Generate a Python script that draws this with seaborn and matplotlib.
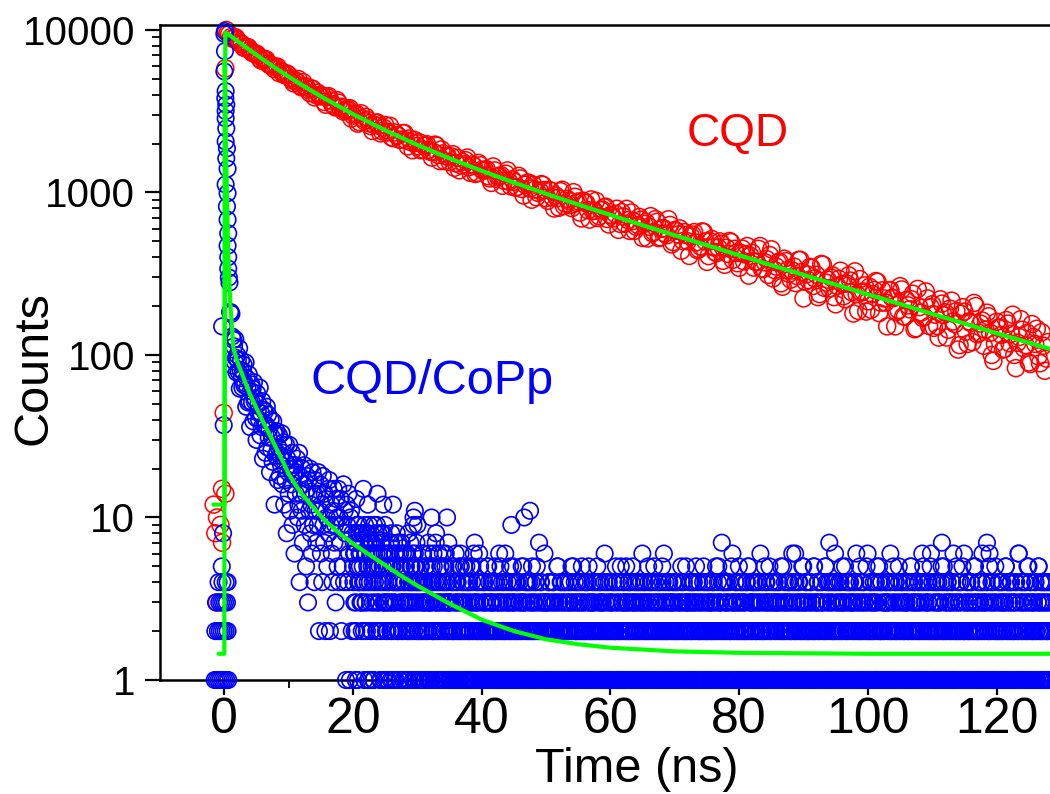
import numpy as np
import pandas as pd
import seaborn as sns
import matplotlib.pyplot as plt
from matplotlib.ticker import FixedLocator, FuncFormatter, NullFormatter, LogLocator

sns.set_style("ticks")
plt.rcParams['font.family'] = ['Liberation Sans', 'DejaVu Sans']
plt.rcParams.update({"text.color": "black", "axes.labelcolor": "black",
                     "xtick.color": "black", "ytick.color": "black"})

##
# DATA
##

# CQD - points before / at the pulse
red_pre_t = [-1.66, -1.4, -1.14, -1.14, -0.6, -0.36, -0.36, -0.1, 0.15, 0.15, 0.3]
red_pre_y = [12, 8, 10, 3, 9, 15, 7, 44, 14, 5800, 10000]

# CQD - decay, one value every 0.5 ns starting at 0.5 ns
red_start, red_step = 0.5, 0.5
red_counts = [
    9540, 9030, 8940, 8750, 8240, 7790, 7840, 7510, 7180, 7150, 6650, 6640, 6590, 6090, 5990, 5910, 5430, 5530, 5270, 5290,
    4900, 4900, 4990, 4430, 4490, 4290, 4370, 3850, 4110, 3900, 3610, 3860, 3680, 3410, 3700, 3320, 3150, 3230, 3300, 2970,
    3060, 2710, 2850, 2920, 2670, 2390, 2680, 2570, 2380, 2600, 2360, 2180, 2340, 2240, 2110, 2320, 1920, 2040, 2110, 1930,
    1820, 1940, 1980, 1780, 1770, 1940, 1560, 1740, 1670, 1540, 1720, 1510, 1370, 1540, 1580, 1430, 1490, 1300, 1520, 1380,
    1375, 1260, 1145, 1367, 1251, 1279, 1179, 1367, 1091, 1166, 1081, 1220, 958, 1145, 1059, 1117, 935, 1024, 1114, 923,
    1036, 933, 958, 806, 1039, 854, 888, 801, 941, 880, 692, 866, 777, 906, 771, 696, 778, 811, 687, 727,
    695, 794, 641, 712, 793, 580, 667, 615, 707, 525, 657, 616, 562, 685, 524, 598, 559, 684, 479, 588,
    551, 438, 570, 501, 536, 570, 442, 465, 571, 374, 501, 460, 423, 500, 380, 457, 503, 385, 425, 344,
    451, 415, 308, 425, 375, 450, 340, 372, 311, 447, 333, 371, 276, 391, 333, 291, 350, 306, 385, 223,
    314, 348, 266, 312, 237, 360, 279, 257, 309, 205, 294, 273, 220, 309, 243, 327, 187, 242, 268, 214,
    190, 251, 282, 210, 223, 150, 251, 224, 184, 265, 173, 218, 191, 238, 146, 197, 169, 246, 151, 205,
    177, 128, 207, 183, 143, 216, 155, 108, 179, 185, 117, 157, 209, 134, 156, 114, 182, 137, 92, 160,
    148, 108, 164, 118, 177, 83, 129, 143, 115, 90, 155, 117, 98, 138, 80, 120,
]

# CQD - the channels in between, every 0.5 ns starting at 0.75 ns
red_start_b = 0.75
red_counts_b = [
    9440, 8830, 9010, 8390, 8190, 7730, 7820, 7280, 7150, 6980, 6480, 6620, 6220, 6110, 5750, 5950, 5610, 5300, 5390, 5050,
    4700, 4830, 4540, 4770, 4480, 4100, 4340, 3970, 3960, 3950, 3470, 3910, 3500, 3340, 3570, 3370, 3190, 3260, 2850, 3030,
    2650, 3070, 2750, 2800, 2560, 2610, 2700, 2310, 2500, 2340, 2570, 2160, 2250, 2110, 2320, 2090, 2150, 1820, 2020, 2040,
    1840, 1950, 1830, 1640, 1970, 1700, 1840, 1560, 1660, 1670, 1420, 1630, 1470, 1490, 1640, 1320, 1460, 1320, 1470, 1360,
    1390, 1220, 1445, 1215, 1260, 1100, 1305, 1165, 1205, 1070, 1265, 1050, 1115, 1150, 903, 1044, 994, 1125, 1036, 889,
    1024, 797, 924, 1018, 827, 914, 838, 1004, 862, 752, 890, 860, 681, 770, 888, 714, 784, 818, 636, 722,
    739, 589, 756, 642, 675, 753, 581, 631, 681, 640, 521, 715, 572, 660, 530, 603, 545, 631, 495, 580,
    601, 502, 548, 407, 551, 492, 448, 576, 500, 406, 517, 430, 459, 484, 359, 419, 495, 450, 367, 425,
    377, 468, 408, 345, 373, 468, 338, 389, 412, 296, 350, 376, 263, 378, 316, 331, 277, 385, 324, 283,
    289, 344, 296, 227, 363, 259, 291, 300, 227, 266, 330, 230, 275, 287, 180, 237, 293, 246, 185, 263,
    237, 285, 181, 250, 210, 250, 225, 150, 189, 253, 172, 202, 220, 144, 255, 182, 172, 223, 197, 147,
    151, 220, 176, 128, 193, 161, 186, 115, 197, 139, 161, 120, 200, 137, 163, 143, 173, 100, 117, 147,
    133, 109, 156, 135, 100, 119, 166, 110, 137, 88, 129, 145, 89, 114, 95,
]

# CQD fit
red_fit_t = [-1.7, 0.05, 0.15, 0.5, 1, 2, 4, 6, 8, 10, 12, 15, 20, 25, 30, 35, 40, 45, 50, 55,
             60, 65, 70, 75, 80, 85, 90, 95, 100, 105, 110, 115, 120, 125, 128.3]
red_fit_y = [12, 12, 9600, 9480, 9164, 8559, 7490, 6584, 5815, 5158, 4598, 3902, 3032, 2413, 1960, 1621, 1358, 1150, 982, 843,
             727, 629, 545, 473, 411, 357, 311, 271, 236, 206, 179, 156, 136, 119, 109]

# CQD/CoPp - points before / at the pulse
blue_pre_t = [-1.5, -1.2, -0.9, -0.6, -0.3, 0.0, 0.3, 0.6,
              -1.4, -1.0, -0.7, -0.4, -0.1, 0.2, 0.5,
              -1.3, -0.8, -0.5, -0.2, 0.1, 0.4,
              -0.9, -0.3, 0.2, 0.5,
              -0.4, -0.2, -0.1, -0.35]
blue_pre_y = [1, 1, 1, 1, 1, 1, 1, 1,
              2, 2, 2, 2, 2, 2, 2,
              3, 3, 3, 3, 3, 3,
              4, 4, 4, 4,
              5, 8, 37, 150]

# CQD/CoPp - the peak column
blue_peak_t = [0.1, 0.0, 0.1, 0.0, 0.2, 0.15, 0.3, 0.2, 0.2, 0.3, 0.2, 0.4, 0.3, 0.5, 0.2, 0.5,
               0.4, 0.5, 0.6, 0.5, 0.6, 0.6, 0.7]
blue_peak_y = [9840, 9470, 7410, 5560, 4200, 3800, 3470, 3170, 2860, 2480, 2060, 1870, 1620, 1400, 1120, 990,
               820, 680, 560, 470, 400, 340, 300]

# CQD/CoPp - fast decay, one channel every 0.1 ns from 0.8 ns
blue_early_start = 0.8
blue_early = [
    279, 184, 183, 179, 130, 86, 124, 113, 91, 125,
    96, 78, 100, 93, 79, 110, 62, 81, 93, 72,
    63, 80, 87, 65, 67, 90, 48, 72, 63, 51,
    76, 52, 36, 60, 66, 51, 62, 39, 68, 52,
    54, 41, 30, 58, 45, 50, 40, 63, 32, 44,
    36, 52, 23, 46, 37, 45, 25, 37, 48, 27,
    43, 31, 35, 19, 40, 26, 31, 22, 39, 33,
    12, 33, 24, 34, 25, 17, 27, 32, 18, 24,
    21, 33, 16, 25, 29, 12, 22, 17, 28, 8,
    23, 19, 14, 28, 11, 20, 16, 25, 9, 21,
    18, 6, 21, 14, 19, 23, 10, 12, 25, 4,
    18, 14,
    11, 20, 7, 16, 21, 9, 14, 5, 18, 15,
    3, 17, 11, 20, 8, 12, 6, 19, 9, 14,
    4, 17, 11, 7, 14, 9, 19, 2, 11, 16,
    6, 12, 4, 18, 9, 7, 14, 2, 13, 10,
    5, 15, 8, 17, 2, 9, 12, 6, 4, 11,
    15, 7, 9, 3, 13, 10, 5, 15, 4, 10,
    7, 13, 2, 9, 5, 16, 4, 11, 8, 1,
    12, 9, 4, 14, 6, 1, 10, 11, 2, 8,
]

# CQD/CoPp - tail, one digit (counts) per 0.1 ns channel from 20.0 ns
blue_tail_start = 20.0
blue_tail_digits = (
    "5736128549" "6473358246" "3851794625" "7316482953" "6241875316"
    "4253146327" "5134265384" "2716345213" "4652318427" "3541926354"
    "3124524136" "2415321743" "1352462318" "2436125134" "5213642371"
    "2131425213" "4121352613" "2413215142" "3125142317" "2143216321"
    "1213412321" "5213142312" "1243121635" "2132141213" "4121523142"
    "2131241213" "2152131412" "3121421352" "1312413217" "2141321231"
    "1231421213" "2141312152" "1321412312" "4121323141" "2153121243"
    "2132141231" "2412315213" "1241321214" "3123142131" "2612413212"
    "1312413221" "4132125131" "2413212341" "2131521342" "1321412313"
    "2143121324" "1231412152" "3121341213" "2416231212" "4131231421"
    "3121423121" "5132412131" "2314212341" "3125131242" "1213421312"
    "2412313214" "1231521412" "3127141231" "2413212153" "1231421324"
    "1321423121" "3241512134" "2131421231" "4216132121" "3412131524"
    "2131241321" "4132151213" "2413121432" "1231412613" "2141321253"
    "1231421321" "2413215213" "1342121341" "3121524131" "7413212146"
    "2132141231" "5213142121" "3412313241" "2161321423" "1241312152"
    "3121421324" "1231512412" "2413121341" "3124162131" "2142312151"
    "2314212341" "3121241521" "3142131214" "2312415213" "1241321261"
    "4121321423" "1231472152" "3121431213" "2416121324" "1232141512"
    "2131421231" "4123152131" "2421312461" "3121471326" "1241312151"
    "3121421324" "1213512413" "2141231214" "3121621341" "2131421253"
    "2141321231" "4121352132" "1412413212" "4131"
)

# CQD/CoPp - tail channels in between, from 20.05 ns
blue_tail_start_b = 20.05
blue_tail_digits_b = (
    "4627395148" "5362847193" "6248513726" "4195376248" "3517264839"
    "3162453718" "2543161427" "4215372634" "1536241325" "4263154172"
    "2413152634" "1325413261" "3142251473" "2134152316" "1425312413"
    "3121542136" "1243121524" "3152143121" "4213152613" "1324121542"
    "2134121352" "1412313241" "5213124131" "2413216213" "1231421351"
    "3124121341" "2131531214" "1421312412" "3214152131" "2413121623"
    "1321413212" "4123121531" "2142131241" "3121412315" "2131421231"
    "4121352132" "1412413212" "3213141215" "2141231321" "4132121413"
    "2131421251" "3121412314" "1231521342" "2141312132" "4121321416"
    "1324121351" "2143121314" "2131241213" "5121342131" "2413121342"
    "1241312131" "4213121523" "1312413214" "2131421231" "3121512413"
    "2143121321" "4121312513" "1324121431" "2131421216" "3121413215"
    "1231421312" "4121513213" "2141321413" "1231241215" "3241312131"
    "2131412313" "1421312152" "3121413241" "2161321421" "3124131215"
    "1324121321" "4131215213" "2141321412" "3121513241" "2131421231"
    "4121312413" "2131521341" "2141312131" "4213121521" "3124131216"
    "1231421321" "3141213512" "4121321413" "2131241215" "3124121341"
    "2141321213" "1421315213" "2413121341" "2131612413" "1213421512"
    "3121412314" "2131521241" "3124131213" "4121312512" "3141213216"
    "2131421321" "4121315213" "1241312413" "2131421251" "3121413212"
    "1241321413" "2131512413" "2141321231" "4121613214" "2131421315"
    "1241321312" "4121351241" "3213141213" "2141"
)

# CQD/CoPp - rare high counts in the tail
blue_spike_t = [20.5, 21.6, 22.3, 23.8, 24.7, 26.2, 29.4, 29.6, 30.0, 32.2, 34.6, 44.6, 46.6, 47.5]
blue_spike_y = [13, 15, 12, 14, 12, 12, 10, 11, 9, 10, 10, 9, 10, 11]

# CQD/CoPp fit
blue_fit_t = [-0.9, 0.0, 0.05, 0.3, 0.6, 0.9, 1.4, 2, 3, 4, 5, 6, 7, 8, 9, 10, 11, 12, 13, 14, 15,
              16, 17, 18, 19, 20, 22, 24, 27, 30, 35, 40, 45, 50, 55, 60, 70, 80, 100, 128.3]
blue_fit_y = [1.45, 1.45, 6500, 1500, 420, 215, 110, 91, 72, 57, 47, 39, 32.5, 27, 22.5, 18.5, 16, 14, 12.6, 11.3, 10.2,
              9.3, 8.6, 7.9, 7.4, 6.9, 6.1, 5.4, 4.5, 3.8, 2.95, 2.35, 2.0, 1.78, 1.66, 1.58, 1.5, 1.47, 1.45, 1.45]

##
# DATA FRAMES
##
red_t = red_start + red_step * np.arange(len(red_counts))
red_t_b = red_start_b + red_step * np.arange(len(red_counts_b))
df_red = pd.DataFrame({"t": np.concatenate([red_pre_t, red_t, red_t_b]),
                       "counts": np.concatenate([red_pre_y, red_counts, red_counts_b])})

tail_counts = np.array([int(c) for c in blue_tail_digits])
tail_counts_b = np.array([int(c) for c in blue_tail_digits_b])
early_t = blue_early_start + 0.1 * np.arange(len(blue_early))
tail_t = blue_tail_start + 0.1 * np.arange(len(tail_counts))
tail_t_b = blue_tail_start_b + 0.1 * np.arange(len(tail_counts_b))
df_blue = pd.DataFrame({
    "t": np.concatenate([blue_pre_t, blue_peak_t, early_t, tail_t, tail_t_b, blue_spike_t]),
    "counts": np.concatenate([blue_pre_y, blue_peak_y, blue_early, tail_counts, tail_counts_b, blue_spike_y]),
})
df_blue = df_blue[df_blue["counts"] > 0]

##
# PLOT
##
fig = plt.figure(figsize=(10.5, 7.94), dpi=100)
ax = fig.add_axes([160 / 1050, 114 / 794, 890 / 1050, 655 / 794])
ax.set_yscale("log")

sns.scatterplot(data=df_red, x="t", y="counts", ax=ax, marker="o", s=150,
                facecolor="none", edgecolor="#ff0000", linewidth=1.1,
                clip_on=False, zorder=2, legend=False)
sns.scatterplot(data=df_blue, x="t", y="counts", ax=ax, marker="o", s=140,
                facecolor="none", edgecolor="#0000ff", linewidth=1.2,
                clip_on=False, zorder=3, legend=False)
sns.lineplot(x=red_fit_t, y=red_fit_y, ax=ax, color="#00ff00", lw=3,
             estimator=None, sort=False, zorder=4)
sns.lineplot(x=blue_fit_t, y=blue_fit_y, ax=ax, color="#00ff00", lw=3,
             estimator=None, sort=False, zorder=4)

ax.text(79.7, 1932, "CQD", color="#ff0000", fontsize=33, ha="center", va="baseline")
ax.text(32.3, 57.5, "CQD/CoPp", color="#0000ff", fontsize=35, ha="center", va="baseline")

ax.set_xlim(-10, 128.3)
ax.set_ylim(1, 10730)

ax.xaxis.set_major_locator(FixedLocator([0, 20, 40, 60, 80, 100, 120]))
ax.xaxis.set_minor_locator(FixedLocator([10, 30, 50, 70, 90, 110]))
ax.yaxis.set_major_locator(FixedLocator([1, 10, 100, 1000, 10000]))
ax.yaxis.set_major_formatter(FuncFormatter(lambda v, p: f"{v:g}"))
ax.yaxis.set_minor_locator(LogLocator(base=10, subs=np.arange(2, 10)))
ax.yaxis.set_minor_formatter(NullFormatter())

ax.tick_params(axis="both", which="both", direction="out", top=False, right=False,
               color="black", labelcolor="black")
ax.tick_params(axis="y", which="major", length=11, width=1.6, labelsize=29, pad=7)
ax.tick_params(axis="y", which="minor", length=6, width=1.3)
ax.tick_params(axis="x", which="major", length=11, width=1.6, labelsize=36, pad=1)
ax.tick_params(axis="x", which="minor", length=6, width=1.3)

for side in ["left", "bottom", "top"]:
    ax.spines[side].set_linewidth(1.8)
    ax.spines[side].set_color("black")
ax.spines["right"].set_visible(False)

ax.set_xlabel("Time (ns)", fontsize=35, color="black")
ax.set_ylabel("Counts", fontsize=35, color="black")
ax.xaxis.label.set_va("center")
ax.yaxis.label.set_va("center")
ax.xaxis.set_label_coords(0.536, -0.136)
ax.yaxis.set_label_coords(-0.142, 0.476)

fig.savefig("out.png", dpi=100)
